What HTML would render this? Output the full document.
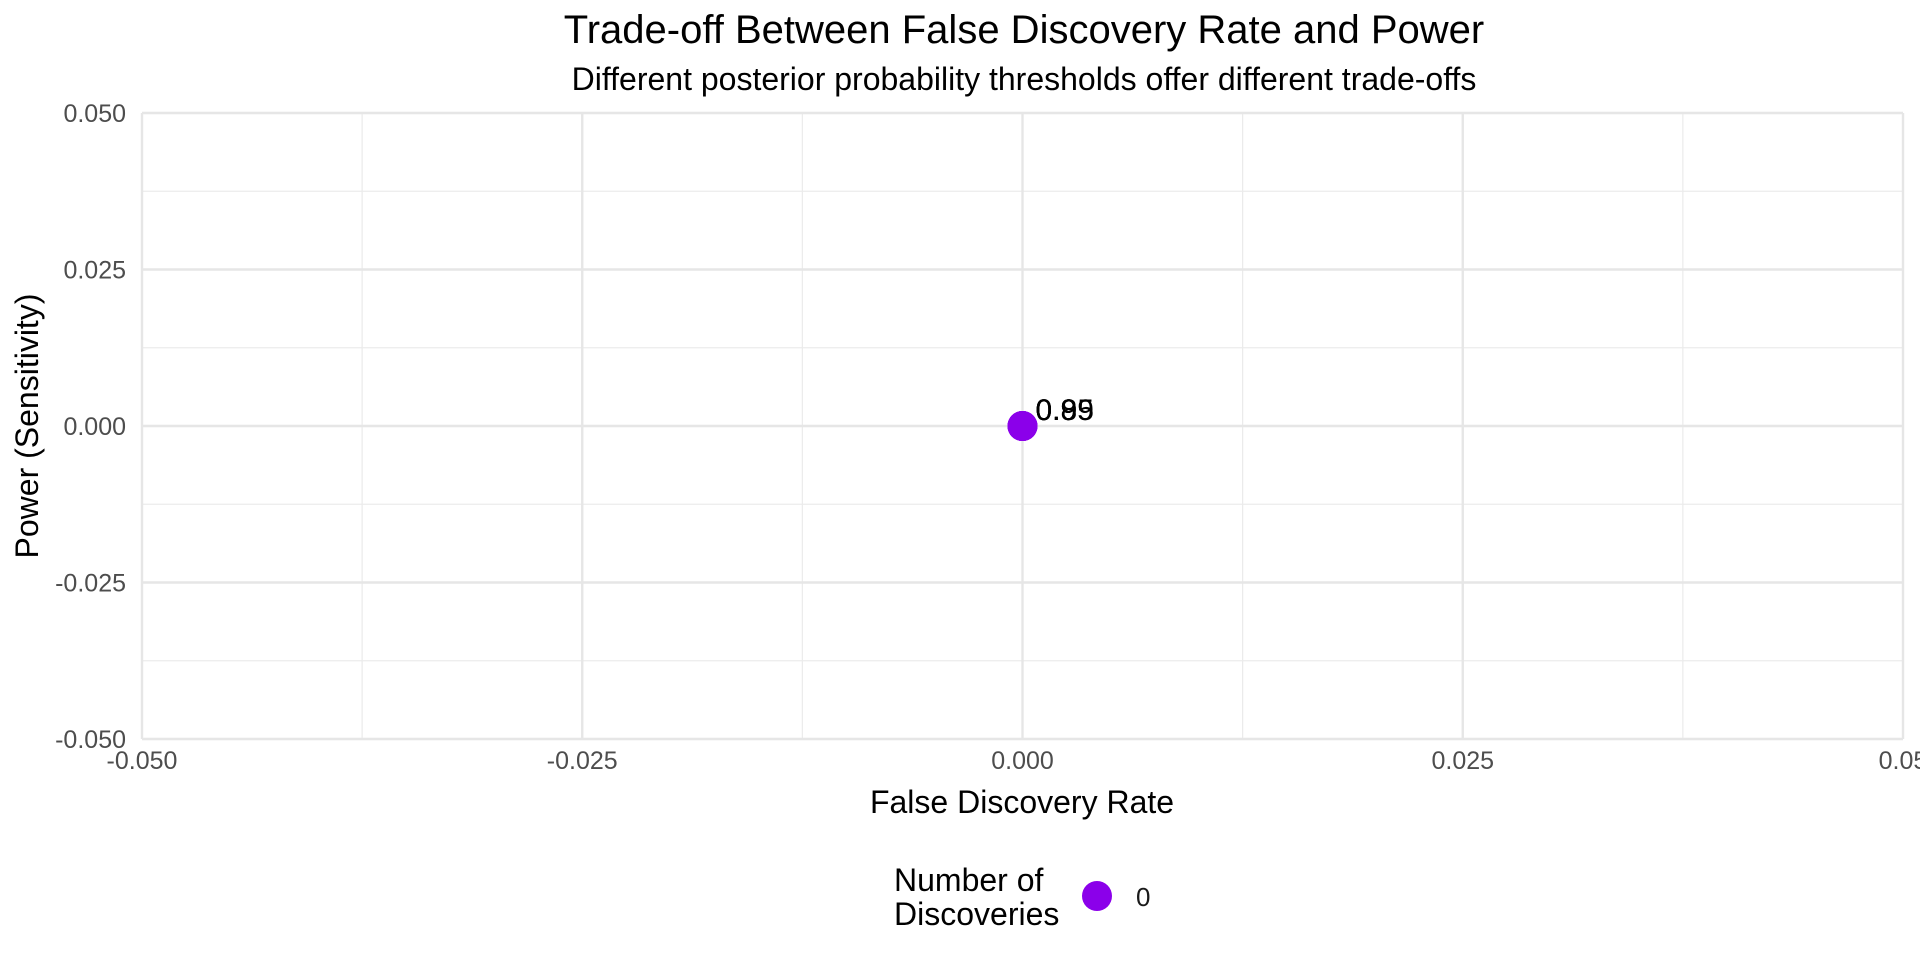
<!DOCTYPE html>
<html><head><meta charset="utf-8"><style>
body{margin:0;background:#fff;}
svg{display:block;font-family:"Liberation Sans",Arial,sans-serif;}
</style></head><body>
<svg id="chart" width="1920" height="960">
<text x="1024" y="43" text-anchor="middle" font-size="40" fill="#000">Trade-off Between False Discovery Rate and Power</text>
<text x="1024" y="90" text-anchor="middle" font-size="32" fill="#000">Different posterior probability thresholds offer different trade-offs</text>
<g id="grid"></g>
<g id="ticks"></g>
<g id="marks"></g>
<text x="1022" y="813" text-anchor="middle" font-size="32" fill="#000">False Discovery Rate</text>
<text transform="translate(38,426) rotate(-90)" text-anchor="middle" font-size="32" fill="#000">Power (Sensitivity)</text>
<g>
<text x="894" y="891" font-size="32" fill="#000"><tspan x="894">Number of</tspan><tspan x="894" y="925">Discoveries</tspan></text>
<circle cx="1097" cy="896" r="15" fill="#8b00ea"/>
<text x="1136" y="906" font-size="26" fill="#1a1a1a">0</text>
</g>
</svg>
<script>
const fdr=[0,0,0,0];
const power=[0,0,0,0];
const thresholds=["0.8","0.9","0.95","0.99"];
const xTicks=[-0.05,-0.025,0,0.025,0.05];
const yTicks=[-0.05,-0.025,0,0.025,0.05];
const xTickLabels=["-0.050","-0.025","0.000","0.025","0.05"];
const yTickLabels=["-0.050","-0.025","0.000","0.025","0.050"];
const L=142,R=1903,T=113,B=739;
const xs=v=>L+(v+0.05)/0.1*(R-L);
const ys=v=>B-(v+0.05)/0.1*(B-T);
const NS="http://www.w3.org/2000/svg";
function mk(tag,attrs,parent){const e=document.createElementNS(NS,tag);for(const k in attrs)e.setAttribute(k,attrs[k]);document.getElementById(parent).appendChild(e);return e;}
for(let i=0;i<xTicks.length-1;i++){
 const m=(xTicks[i]+xTicks[i+1])/2;
 const g=mk('line',{x1:xs(m),x2:xs(m),y1:T,y2:B,stroke:'#ebebeb','stroke-width':1.2},'grid');
 
 
 const m2=(yTicks[i]+yTicks[i+1])/2;
 const h=mk('line',{x1:L,x2:R,y1:ys(m2),y2:ys(m2),stroke:'#ebebeb','stroke-width':1.2},'grid');
 
 
}
xTicks.forEach((v,i)=>{
 const g=mk('line',{x1:xs(v),x2:xs(v),y1:T,y2:B,stroke:'#e6e6e6','stroke-width':2.4},'grid');
 
 
 const t=mk('text',{x:xs(v),y:769,'text-anchor':'middle','font-size':25,fill:'#4d4d4d'},'ticks');
 t.textContent=xTickLabels[i];
 
 
});
yTicks.forEach((v,i)=>{
 const g=mk('line',{x1:L,x2:R,y1:ys(v),y2:ys(v),stroke:'#e6e6e6','stroke-width':2.4},'grid');
 
 
 const t=mk('text',{x:126,y:ys(v)+9,'text-anchor':'end','font-size':25,fill:'#4d4d4d'},'ticks');
 t.textContent=yTickLabels[i];
 
 
});
fdr.forEach((v,i)=>{
 const c=mk('circle',{cx:xs(v),cy:ys(power[i]),r:15,fill:'#8b00ea'},'marks');
 
 
});
fdr.forEach((v,i)=>{
 const t=mk('text',{x:xs(v)+13,y:ys(power[i])-6,'font-size':30,fill:'#000'},'marks');
 t.textContent=thresholds[i];
 
 
});
</script>
</body></html>
